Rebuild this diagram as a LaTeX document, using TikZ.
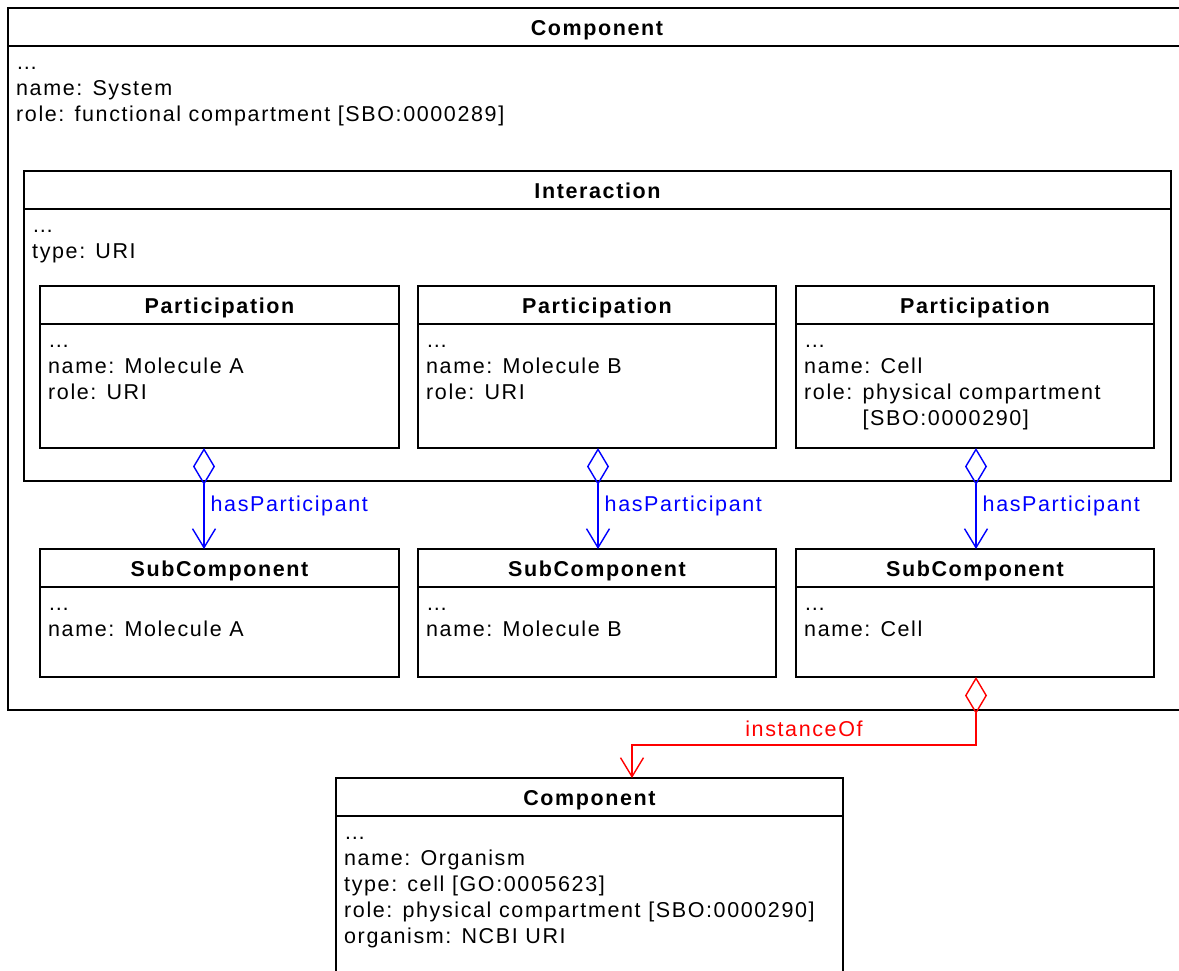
\documentclass[tikz,border=0pt]{standalone}
\usepackage{fontspec}
\setmainfont{Liberation Sans}[LetterSpace=7.5]
\usetikzlibrary{arrows.meta}

\tikzset{
  classbox/.style={draw, line width=1.8pt, anchor=north west, inner sep=0pt, outer sep=0pt},
  classtitle/.style={anchor=base, font=\fontsize{21.5}{26}\selectfont\bfseries},
  attrs/.style={anchor=north west, align=left, inner sep=0pt},
  divider/.style={line width=1.2pt},
  hasp/.style={blue, line width=1.4pt, {Diamond[open,length=37pt,width=22pt]}-{Straight Barb[length=19pt,width=23pt]}},
  haslabel/.style={anchor=west, pos=0.57, text=blue, inner sep=6pt},
  inst/.style={red, line width=1.4pt, {Diamond[open,length=37pt,width=22pt]}-{Straight Barb[length=19pt,width=23pt]}}
}

\begin{document}
\begin{tikzpicture}[x=1pt, y=-1pt, font=\fontsize{21.5}{26}\selectfont]
    \clip (0,0) rectangle (1179,970);

    % the system and its interaction
    \node[classbox, minimum width=1178pt, minimum height=702pt] (sys) at (8,8) {};
    \node[classbox, minimum width=1147pt, minimum height=310pt] (inter) at (24,171) {};

    % participations
    \node[classbox, minimum width=359pt, minimum height=162pt] (p1) at (40,286) {};
    \node[classbox, minimum width=358pt, minimum height=162pt] (p2) at (418,286) {};
    \node[classbox, minimum width=358pt, minimum height=162pt] (p3) at (796,286) {};

    % subcomponents
    \node[classbox, minimum width=359pt, minimum height=128pt] (s1) at (40,549) {};
    \node[classbox, minimum width=358pt, minimum height=128pt] (s2) at (418,549) {};
    \node[classbox, minimum width=358pt, minimum height=128pt] (s3) at (796,549) {};

    % the organism, cut off by the page
    \node[classbox, minimum width=507pt, minimum height=250pt] (org) at (336,778) {};

    \foreach \b in {sys, inter, p1, p2, p3, s1, s2, s3, org}
        \draw[divider] ([yshift=-38pt]\b.north west) -- ([yshift=-38pt]\b.north east);

    \node[classtitle] (syst) at ([yshift=-27.5pt]sys.north) {Component};
    \node[attrs] (sysa) at ([xshift=8pt,yshift=-43.5pt]sys.north west)
        {\strut…\\name: System\\role: functional compartment [SBO:0000289]};

    \node[classtitle] (intert) at ([yshift=-27.5pt]inter.north) {Interaction};
    \node[attrs] (intera) at ([xshift=8pt,yshift=-43.5pt]inter.north west)
        {\strut…\\type: URI};

    \node[classtitle] (p1t) at ([yshift=-27.5pt]p1.north) {Participation};
    \node[attrs] (p1a) at ([xshift=8pt,yshift=-43.5pt]p1.north west)
        {\strut…\\name: Molecule A\\role: URI};
    \node[classtitle] (p2t) at ([yshift=-27.5pt]p2.north) {Participation};
    \node[attrs] (p2a) at ([xshift=8pt,yshift=-43.5pt]p2.north west)
        {\strut…\\name: Molecule B\\role: URI};
    \node[classtitle] (p3t) at ([yshift=-27.5pt]p3.north) {Participation};
    \node[attrs] (p3a) at ([xshift=8pt,yshift=-43.5pt]p3.north west)
        {\strut…\\name: Cell\\role: physical compartment\\\hphantom{role: }[SBO:0000290]};

    \node[classtitle] (s1t) at ([yshift=-27.5pt]s1.north) {SubComponent};
    \node[attrs] (s1a) at ([xshift=8pt,yshift=-43.5pt]s1.north west)
        {\strut…\\name: Molecule A};
    \node[classtitle] (s2t) at ([yshift=-27.5pt]s2.north) {SubComponent};
    \node[attrs] (s2a) at ([xshift=8pt,yshift=-43.5pt]s2.north west)
        {\strut…\\name: Molecule B};
    \node[classtitle] (s3t) at ([yshift=-27.5pt]s3.north) {SubComponent};
    \node[attrs] (s3a) at ([xshift=8pt,yshift=-43.5pt]s3.north west)
        {\strut…\\name: Cell};

    \node[classtitle] (orgt) at ([yshift=-27.5pt]org.north) {Component};
    \node[attrs] (orga) at ([xshift=8pt,yshift=-43.5pt]org.north west)
        {\strut…\\name: Organism\\type: cell [GO:0005623]\\role: physical compartment [SBO:0000290]\\organism: NCBI URI};

    % aggregation links
    \draw[hasp] ([xshift=-15.5pt]p1.south) -- node[haslabel] {hasParticipant} ([xshift=-15.5pt]s1.north);
    \draw[hasp] ([xshift=1pt]p2.south) -- node[haslabel] {hasParticipant} ([xshift=1pt]s2.north);
    \draw[hasp] ([xshift=1pt]p3.south) -- node[haslabel] {hasParticipant} ([xshift=1pt]s3.north);

    \draw[inst] ([xshift=1pt]s3.south) -- ++(0,68)
        -| node[pos=0.25, above=4pt, text=red] {instanceOf} ([xshift=42.5pt]org.north);
\end{tikzpicture}
\end{document}
